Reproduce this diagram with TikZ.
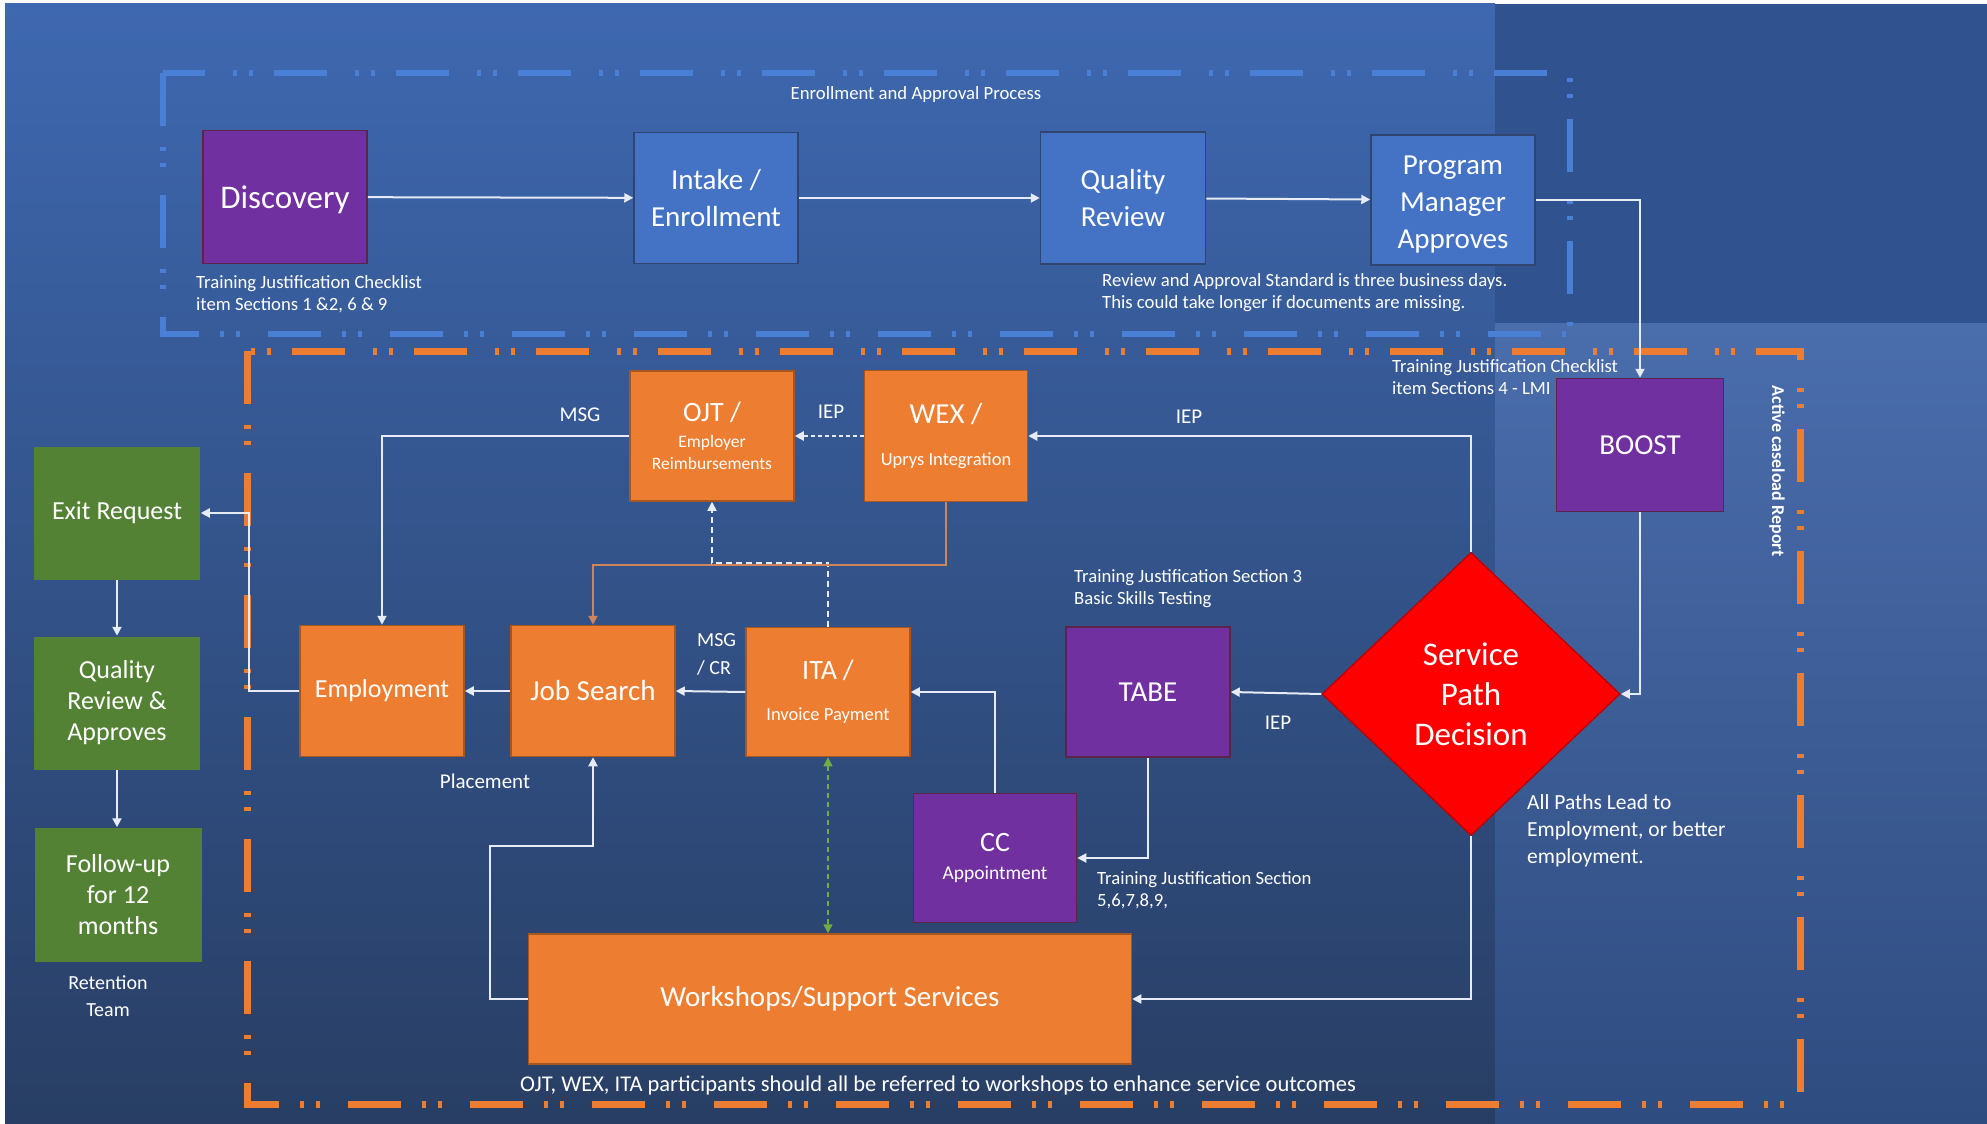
\documentclass[tikz,border=0pt]{standalone}
\usepackage{fontspec}
\setmainfont{Carlito}
\usetikzlibrary{arrows.meta,shapes.geometric,calc}
\definecolor{cPurple}{HTML}{7030A0}
\definecolor{cPurpleD}{HTML}{5A2548}
\definecolor{cBlue}{HTML}{4472C4}
\definecolor{cBlueD}{HTML}{2F456F}
\definecolor{cOrange}{HTML}{ED7D31}
\definecolor{cOrangeD}{HTML}{A8561F}
\definecolor{cGreen}{HTML}{548235}
\definecolor{cRed}{HTML}{FF0000}
\definecolor{cRedD}{HTML}{C00000}
\definecolor{cLine}{HTML}{E6EBF5}
\definecolor{cDashBlue}{HTML}{4A7FD6}
\definecolor{cOrLine}{HTML}{D0845C}
\definecolor{cGreenL}{HTML}{70AD47}
\definecolor{bgTop}{HTML}{3E68B0}
\definecolor{bgMid}{HTML}{2D4878}
\definecolor{bgBot}{HTML}{283E64}
\definecolor{bgRTop}{HTML}{30538F}
\definecolor{bgRA}{HTML}{4A6DAC}
\definecolor{bgRB}{HTML}{2F4C80}
\newcommand\myfs[2]{\fontsize{#1}{#2}\selectfont}
\begin{document}
\begin{tikzpicture}[x=1pt,y=-1pt,
  boxbase/.style={rectangle, inner sep=0pt, align=center, text=white, line width=1.5pt},
  purplebox/.style={boxbase, fill=cPurple, draw=cPurpleD},
  bluebox/.style={boxbase, fill=cBlue, draw=cBlueD},
  orangebox/.style={boxbase, fill=cOrange, draw=cOrangeD},
  greenbox/.style={boxbase, fill=cGreen},
  sz/.style 2 args={minimum width=#1pt, minimum height=#2pt},
  arr/.style={draw=cLine, line width=2pt, -{Triangle[length=9pt,width=9pt]}},
  lbl/.style={text=white, inner sep=0pt, font=\myfs{18.7}{22}},
  lblL/.style={lbl, align=left, anchor=north west},
  bluedash/.style={draw=cDashBlue, line width=6pt, dash pattern=on 53pt off 21pt on 4pt off 12pt on 4pt off 28pt},
  orangedash/.style={draw=cOrange, line width=7pt, dash pattern=on 53pt off 21pt on 4pt off 12pt on 4pt off 28pt}
]
\useasboundingbox (0,0) rectangle (1987,1124);
% background
\fill[white] (0,0) rectangle (1987,1124);
\shade[top color=bgTop, middle color=bgMid, bottom color=bgBot] (5,4) rectangle (1495,1124);
\fill[bgRTop] (1495,4) rectangle (1987,323);
\shade[top color=bgRA, bottom color=bgRB] (1495,323) rectangle (1987,1124);
% group frames
\draw[bluedash] (163,73) rectangle (1570,334);
\draw[orangedash] (247,351) rectangle (1800,1104);

% boxes
\node[purplebox, sz={164}{133}, font=\myfs{33}{38}, text depth=0pt] (disc) at (285,197) {Discovery};
\node[bluebox, sz={164}{131}, font=\myfs{29}{37}] (intake) at (716,198) {Intake /\\Enrollment};
\node[bluebox, sz={165}{132}, font=\myfs{29}{37}] (qr) at (1123,198) {Quality\\Review};
\node[bluebox, sz={164}{130}] (pm) at (1453,200) {};
\node[text=white, align=center, inner sep=0pt, font=\myfs{29}{37}] (pmT) at ($(pm.center)+(0,5)$) {Program\\Manager\\Approves};
\node[purplebox, sz={167}{133}, font=\myfs{29}{35}] (boost) at (1640,445) {BOOST};
\node[diamond, inner sep=0pt, minimum width=298pt, minimum height=283pt, fill=cRed, draw=cRedD, line width=1.5pt, text=white, align=center, font=\myfs{33}{40}] (spd) at (1471,694) {Service\\Path\\Decision};
\node[orangebox, sz={164}{130}, font=\myfs{17.5}{22}] (ojt) at (712,436) {{\myfs{28}{30}OJT /}\\[4pt]Employer\\Reimbursements};
\node[orangebox, sz={163}{131}, font=\myfs{18.5}{22}] (wex) at (946,436) {{\myfs{29}{30}WEX /}\\[20pt]Uprys Integration};
\node[orangebox, sz={164}{131}, font=\myfs{26}{30}] (emp) at (382,691) {Employment};
\node[orangebox, sz={164}{131}, font=\myfs{29}{34}] (js) at (593,691) {Job Search};
\node[orangebox, sz={164}{129}, font=\myfs{18.5}{22}] (ita) at (828,692) {{\myfs{28}{30}ITA\hspace{6pt}/}\\[19pt]Invoice Payment};
\node[purplebox, sz={164}{130}, font=\myfs{29}{34}] (tabe) at (1148,692) {TABE};
\node[purplebox, sz={163}{129}, font=\myfs{19.5}{23}] (cc) at (995,858) {{\myfs{28}{30}CC}\\[5pt]Appointment};
\node[orangebox, sz={603}{130}, font=\myfs{29}{34}] (ws) at (830,999) {Workshops/Support Services};
\node[greenbox, sz={166}{133}, font=\myfs{26}{31}] (exit) at (117,513) {Exit Request};
\node[greenbox, sz={166}{133}, font=\myfs{26}{31}] (qra) at (117,703) {Quality\\Review \&\\Approves};
\node[greenbox, sz={167}{134}, font=\myfs{26}{31}] (fu) at (118,895) {Follow-up\\for 12\\months};

% labels
\node[lbl] (tEAP) at (916,95) {Enrollment and Approval Process};
\node[lblL] (tDisc) at (196,275) {Training Justification Checklist\\item Sections 1 \&2, 6 \& 9};
\node[lblL] (tRev) at (1102,273) {Review and Approval Standard is three business days.\\This could take longer if documents are missing.};
\node[lblL] (tLMI) at (1392,359) {Training Justification Checklist\\item Sections 4 - LMI};
\node[lbl, rotate=-90, font=\bfseries\myfs{18}{22}] (tACR) at (1777,471) {Active caseload Report};
\node[lbl, font=\myfs{21}{25}] (tIEP1) at (1189,417) {IEP};
\node[lbl, font=\myfs{21}{25}] (tIEP2) at (831,412) {IEP};
\node[lbl, font=\myfs{21}{25}] (tMSG1) at (580,415) {MSG};
\node[lbl, align=left, anchor=west, font=\myfs{20}{28}] (tMSG2) at (697,654) {MSG\\/ CR};
\node[lblL] (tTJS3) at (1074,569) {Training Justification Section 3\\Basic Skills Testing};
\node[lbl, font=\myfs{21}{25}] (tIEP3) at (1278,723) {IEP};
\node[lbl, font=\myfs{21}{25}] (tPlace) at (485,781) {Placement};
\node[lblL] (tTJS5) at (1097,871) {Training Justification Section\\5,6,7,8,9,};
\node[lbl, align=left, anchor=north west, font=\myfs{21.5}{27}] (tAll) at (1527,794) {All Paths Lead to\\Employment, or better\\employment.};
\node[lbl, align=center, font=\myfs{20}{27}] (tRet) at (108,996) {Retention\\Team};
\node[lbl, font=\myfs{22.5}{26}] (tBot) at (938,1085) {OJT, WEX, ITA participants should all be referred to workshops to enhance service outcomes};

% connectors
\draw[arr] (disc) -- (intake);
\draw[arr] (intake) -- (qr);
\draw[arr] (qr) -- (pm);
\draw[arr] (pm.east) -| (boost.north);
\draw[arr] (boost.south) |- (spd.east);
\draw[arr] (spd.north) |- (wex.east);
\draw[arr] (spd.west) -- (tabe.east);
\draw[arr] (spd.south) |- (ws.east);
\draw[arr] (tabe.south) |- (cc.east);
\draw[arr] (cc.north) |- (ita.east);
\draw[arr] (ita.west) -- (js.east);
\draw[arr] (js.west) -- (emp.east);
\coordinate (exc) at (249,691);
\draw[arr] (emp.west) -- (exc) |- (exit.east);
\draw[arr] (exit.south) -- (qra.north);
\draw[arr] (qra.south) -- (fu.north -| qra.south);
\draw[arr] (ojt.west) -| (emp.north);
\draw[arr, line width=1.5pt, dash pattern=on 6pt off 4pt] (ita.north) -- ++(0,-64) -| (ojt.south);
\draw[arr, draw=cOrLine] (wex.south) -- ++(0,63) -| (js.north);
\draw[arr, line width=2.5pt, dash pattern=on 4pt off 3pt] (wex.west) -- (ojt.east);
\draw[draw=cGreenL, line width=1.5pt, dash pattern=on 5pt off 4pt, {Triangle[length=9pt,width=9pt]}-{Triangle[length=9pt,width=9pt]}] (ita.south) -- (ita.south |- ws.north);
\draw[arr] (ws.west) -- ++(-38,0) |- ($(js.south)+(0,89)$) -- (js.south);
\end{tikzpicture}
\end{document}
